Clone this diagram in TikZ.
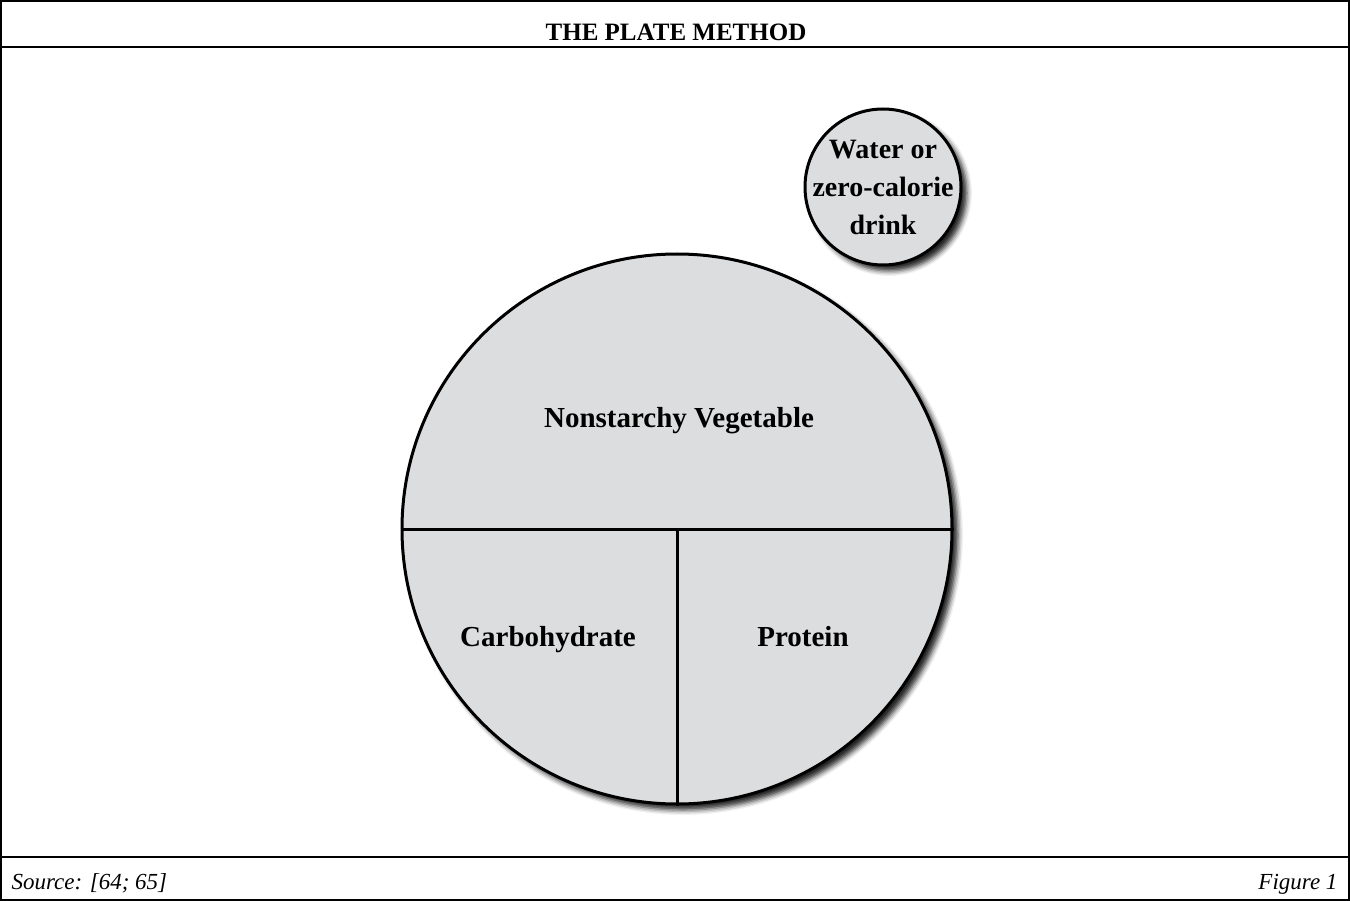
\documentclass[tikz,border=0pt]{standalone}
\usepackage{fontspec}
\setmainfont{Liberation Serif}
\usetikzlibrary{shadows.blur}
\definecolor{platefill}{HTML}{DCDDDF}
\begin{document}
\begin{tikzpicture}[x=1pt,y=-1pt,
  frame/.style={draw=black,line width=2pt},
  plate/.style={circle,draw=black,line width=3pt,fill=platefill,inner sep=0pt,
    blur shadow={shadow xshift=6pt,shadow yshift=-6pt,shadow blur radius=5pt,shadow opacity=85}},
  divider/.style={draw=black,line width=3pt},
  lbl/.style={font=\fontsize{29}{38}\selectfont\bfseries,align=center,text=black,anchor=base},
  dlbl/.style={font=\fontsize{28}{38}\selectfont\bfseries,align=center,text=black},
  ttl/.style={font=\fontsize{25}{28}\selectfont\bfseries,anchor=base},
  foot/.style={font=\fontsize{23}{26}\selectfont\itshape}]
\useasboundingbox (0,0) rectangle (1350,901);
\draw[frame] (1,1) rectangle (1349,900);
\draw[frame] (1,47) -- (1349,47);
\draw[frame] (1,857) -- (1349,857);
\node[ttl] (title) at (676,41) {THE PLATE METHOD};
\node[foot,anchor=base west] (source) at (8,889) {Source: [64; 65]};
\node[foot,anchor=base east] (fig) at (1341,889) {Figure 1};
% plate
\node[plate,minimum size=550pt] (plate) at (677,529) {};
\draw[divider] (plate.west) -- (plate.east);
\draw[divider] (plate.center) -- (plate.south);
\node[lbl] (veg) at (679,428) {Nonstarchy Vegetable};
\node[lbl] (carb) at (548,646) {Carbohydrate};
\node[lbl] (prot) at (803,646) {Protein};
% drink
\node[plate,minimum size=156pt] (drink) at (883,187) {};
\node[dlbl] (drinktxt) at (drink.center) {Water or\\zero-calorie\\drink};
\end{tikzpicture}
\end{document}
